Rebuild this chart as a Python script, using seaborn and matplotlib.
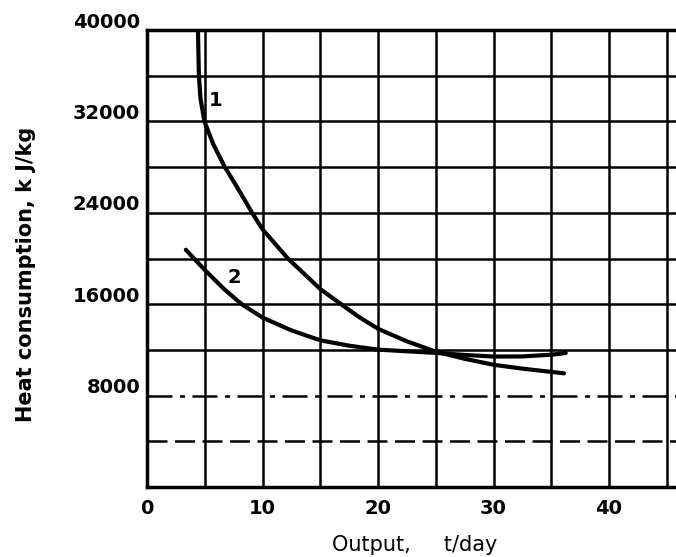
import matplotlib
matplotlib.use("Agg")
import matplotlib.pyplot as plt
from matplotlib.transforms import ScaledTranslation
import seaborn as sns

# curve 1 and curve 2
output_1 = [4.41, 4.49, 4.63, 4.97, 5.74, 6.74, 7.65, 9.1, 10.0, 12.2, 15.0, 16.8, 18.4, 20.0, 22.5, 25.0, 27.5, 30.0, 32.5, 36.1]
heat_1 = [40000, 36000, 34000, 32000, 30000, 28000, 26500, 24000, 22550, 20000, 17330, 16000, 14850, 13850, 12750, 11850, 11220, 10700, 10360, 9950]

output_2 = [3.36, 4.07, 5.0, 6.7, 8.2, 10.0, 12.5, 15.0, 17.5, 20.0, 22.5, 25.0, 27.5, 30.0, 32.5, 35.0, 36.25]
heat_2 = [20770, 20000, 19000, 17300, 16000, 14830, 13710, 12840, 12370, 12025, 11880, 11740, 11560, 11420, 11430, 11580, 11730]

x_ticks = [0, 10, 20, 30, 40]
y_ticks = [8000, 16000, 24000, 32000, 40000]
curve_labels = ["1", "2"]

sns.set_theme(style="white")
plt.rcParams['font.family'] = ['DejaVu Sans']
plt.rcParams['text.color'] = 'black'
plt.rcParams['axes.labelcolor'] = 'black'
plt.rcParams['xtick.color'] = 'black'
plt.rcParams['ytick.color'] = 'black'

fig = plt.figure(figsize=(6.76, 5.57), dpi=100)
ax = fig.add_axes([0.2175, 0.1257, 0.7825, 0.8203])

sns.lineplot(x=output_1, y=heat_1, color="black", linewidth=3, ax=ax)
sns.lineplot(x=output_2, y=heat_2, color="black", linewidth=3, ax=ax)

ax.text(5.9, 33870, curve_labels[0], fontsize=14, fontweight="bold", ha="center", va="center")
ax.text(7.6, 18310, curve_labels[1], fontsize=14, fontweight="bold", ha="center", va="center")

ax.set_xlim(0, 45.8)
ax.set_ylim(0, 40000)

ax.set_xticks(x_ticks)
ax.set_xticks(range(5, 46, 10), minor=True)
ax.set_yticks(y_ticks)
ax.set_yticks(range(4000, 40000, 8000), minor=True)
ax.set_xticklabels([str(t) for t in x_ticks], fontsize=14, fontweight="bold")
ax.set_yticklabels([str(t) for t in y_ticks], fontsize=14, fontweight="bold")
ax.tick_params(which="both", length=0)
ax.tick_params(axis="x", pad=9)
ax.tick_params(axis="y", pad=5)

# labels on the y axis sit a little above their grid line
for lab in ax.get_yticklabels():
    lab.set_transform(lab.get_transform() + ScaledTranslation(0, 0.1, fig.dpi_scale_trans))

ax.grid(True, which="both", color="black", linewidth=1.8)
# the two low horizontal lines are broken in the original
for tk in ax.yaxis.get_minor_ticks():
    if tk.get_loc() == 4000:
        tk.gridline.set_linestyle((0, (8, 3)))
for tk in ax.yaxis.get_major_ticks():
    if tk.get_loc() == 8000:
        tk.gridline.set_linestyle((0, (10, 3, 2, 3)))

for side in ["left", "bottom", "top"]:
    ax.spines[side].set_color("black")
    ax.spines[side].set_linewidth(2.5)
ax.spines["right"].set_visible(False)

ax.set_xlabel("Output,     t/day", fontsize=15, va="center")
ax.set_ylabel("Heat consumption, k J/kg", fontsize=15, fontweight="bold", va="center")
ax.xaxis.set_label_coords(0.614, 0.0215, transform=fig.transFigure)
ax.yaxis.set_label_coords(0.0385, 0.508, transform=fig.transFigure)

fig.savefig("out.png", dpi=100)
